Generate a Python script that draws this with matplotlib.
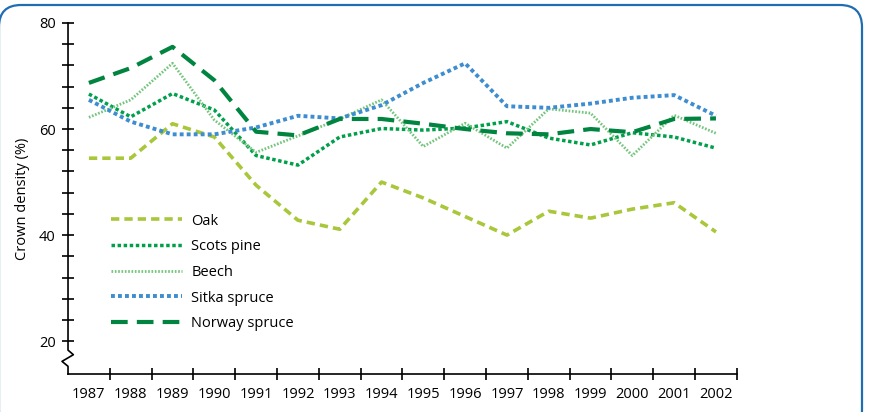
import matplotlib
matplotlib.use("Agg")
import matplotlib.pyplot as plt
from matplotlib.patches import FancyBboxPatch
from matplotlib.transforms import IdentityTransform

years = list(range(1987, 2003))
oak = [54.5, 54.5, 61.0, 58.5, 49.4, 42.8, 41.1, 50.0, 47.0, 43.5, 40.0, 44.5, 43.2, 44.9, 46.1, 40.6]
scots_pine = [66.6, 62.3, 66.7, 63.6, 55.0, 53.2, 58.5, 60.1, 59.8, 60.2, 61.4, 58.3, 57.0, 59.3, 58.5, 56.4]
beech = [62.2, 65.5, 72.4, 61.7, 55.6, 58.7, 61.9, 65.5, 56.7, 61.1, 56.4, 63.8, 63.0, 55.0, 62.6, 59.2]
sitka_spruce = [65.5, 61.4, 59.0, 59.0, 60.3, 62.5, 62.0, 64.5, 68.7, 72.4, 64.3, 64.0, 64.8, 65.9, 66.4, 62.5]
norway_spruce = [68.7, 71.5, 75.5, 69.2, 59.5, 58.8, 61.9, 61.9, 61.0, 60.0, 59.2, 59.0, 60.0, 59.4, 61.9, 62.0]

plt.rcParams['font.family'] = ['Open Sans', 'DejaVu Sans']
plt.rcParams['font.size'] = 10.5

fig = plt.figure(figsize=(8.72, 4.12), dpi=100)

# rounded blue frame (pixel coords)
frame = FancyBboxPatch((-1, -20), 863, 427,
                       boxstyle="round,pad=0,rounding_size=22",
                       transform=IdentityTransform(), fill=False,
                       edgecolor="#1f6db3", linewidth=1.6)
fig.patches.append(frame)

ax = fig.add_axes([0.078, 0.0922, 0.767, 0.852])
x = list(range(len(years)))

ax.plot(x, oak, color="#a9c73a", lw=2.6, linestyle=(0, (2.3, 1.4)), label="Oak")
ax.plot(x, scots_pine, color="#00a04b", lw=2.5, linestyle=(0, (1.0, 0.75)), label="Scots pine")
ax.plot(x, beech, color="#74c57c", lw=2.0, linestyle=(0, (0.6, 0.6)), label="Beech")
ax.plot(x, sitka_spruce, color="#3d8dd0", lw=2.8, linestyle=(0, (1.0, 0.8)), label="Sitka spruce")
ax.plot(x, norway_spruce, color="#00843f", lw=3.0, linestyle=(0, (4.0, 2.2)), label="Norway spruce")

ax.set_xlim(-0.5, 15.5)
ax.set_ylim(13.8, 80)

for s in ["top", "right", "left"]:
    ax.spines[s].set_visible(False)
ax.spines["bottom"].set_linewidth(1.2)

# y axis line with break
ax.plot([0, 0, 0.008, -0.009, 0, 0], [1.0, 0.068, 0.055, 0.036, 0.022, 0.0],
        transform=ax.transAxes, color="black", lw=1.2, clip_on=False)

ax.set_yticks([20, 40, 60, 80])
ax.set_yticks(list(range(20, 81, 4)), minor=True)
ax.tick_params(axis="y", which="both", direction="inout", length=8, width=1.2, pad=5)

ax.set_xticks(x)
ax.set_xticklabels([str(y) for y in years])
ax.set_xticks([i + 0.5 for i in range(16)], minor=True)
ax.tick_params(axis="x", which="major", length=0, pad=9)
ax.tick_params(axis="x", which="minor", direction="inout", length=9, width=1.2)

ax.set_ylabel("Crown density (%)", labelpad=6)

ax.legend(loc="upper left", bbox_to_anchor=(0.064, 0.457), frameon=False,
          handlelength=4.9, handletextpad=0.62, labelspacing=0.73,
          borderpad=0, borderaxespad=0)

fig.savefig("out.png", dpi=100)
